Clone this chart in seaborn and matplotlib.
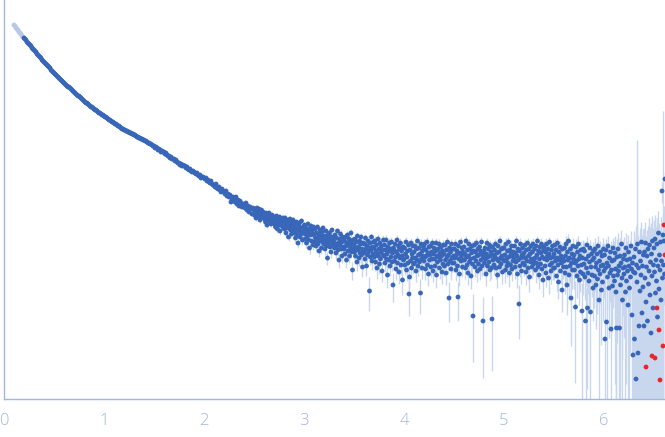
import numpy as np
import pandas as pd
import matplotlib
matplotlib.use("Agg")
import matplotlib.pyplot as plt
import seaborn as sns

# intensities stored as -log10(I) * 100
# q = 0.10 .. 2.49, step 0.01
smooth_vals = """
-5 -4 -2 -1 0 2 3 4 6 7
8 9 10 12 13 14 15 16 18 19
20 21 22 24 25 26 27 28 30 31
32 33 34 35 36 37 38 40 41 42
43 44 45 46 47 48 49 50 51 52
53 54 55 56 57 57 58 59 60 61
62 63 64 65 66 66 67 68 69 70
71 72 73 73 74 75 76 77 77 78
79 80 80 81 82 83 83 84 85 85
86 87 87 88 89 90 90 91 92 92
93 94 94 95 96 96 97 98 99 99
100 100 101 101 102 102 103 103 104 104
105 105 106 107 107 108 108 109 109 110
110 111 111 112 113 113 114 114 115 116
116 118 117 118 120 119 120 122 121 122
122 124 123 125 126 126 128 127 129 129
129 131 130 132 133 133 135 134 136 135
136 136 138 137 139 140 139 141 142 141
142 143 144 143 145 146 145 148 147 147
148 149 148 151 150 152 153 151 154 155
155 157 154 158 159 157 160 162 159 161
162 164 161 166 164 167 165 172 170 167
169 172 167 174 170 176 171 173 177 174
175 178 173 180 176 182 177 179 184 178
"""

# q = 2.500 .. 6.610, step 0.005
noisy_vals = """
180 185 179 183 188 181 178 184 182 186 179 183 190 181 185 180 184 187 182 186
184 189 186 192 183 188 195 185 190 187 183 191 188 186 194 189 185 192 187 190
189 194 187 197 190 186 193 199 188 192 195 187 201 190 193 189 196 191 188 198
192 199 188 196 203 194 190 198 193 207 191 196 189 200 195 204 192 197 190 201
197 203 194 208 199 192 205 201 213 196 200 193 207 198 204 191 202 210 197 203
201 195 209 204 198 213 200 206 194 210 202 218 199 205 196 211 203 200 215 197
205 212 199 208 216 203 210 197 214 207 221 204 200 211 206 218 202 209 198 213
214 206 219 209 201 216 211 228 205 213 208 203 217 210 222 207 200 215 212 209
210 218 205 214 223 208 216 201 220 213 230 209 215 204 219 212 226 207 217 211
219 211 224 207 216 230 213 205 221 215 209 226 212 218 203 222 214 240 210 219
215 222 209 226 218 212 232 206 220 217 228 211 223 214 207 225 219 237 213 221
223 214 229 208 219 236 216 225 211 222 218 261 213 227 220 207 231 217 224 212
218 227 211 232 221 215 238 224 209 226 219 234 213 229 222 216 241 220 225 210
226 215 233 220 210 229 224 245 217 230 221 213 236 219 227 212 232 223 255 218
220 231 214 227 239 222 210 233 225 216 242 219 228 213 235 221 226 250 217 230
229 218 235 224 212 240 227 221 233 215 264 247 220 231 213 238 224 228 216 234
222 233 216 228 241 219 230 211 236 225 218 232 224 263 214 229 238 221 226 217
231 214 227 239 220 226 212 235 223 244 217 230 225 216 237 222 229 213 241 224
218 229 236 221 213 245 226 232 219 227 214 238 223 230 217 226 242 221 234 215
224 236 215 230 243 220 227 212 234 225 268 218 231 222 239 214 228 233 219 226
233 219 228 214 240 225 221 236 267 216 229 244 223 212 231 226 218 237 222 230
217 230 224 238 211 227 235 220 243 226 214 232 219 229 246 223 216 234 286 221
228 215 237 222 231 213 226 241 219 234 225 217 239 221 230 212 236 224 291 227
221 233 218 229 244 224 213 236 227 219 232 215 240 226 222 238 289 217 230 225
235 220 227 214 238 229 223 245 216 231 222 237 211 228 234 219 226 242 218 230
218 231 225 240 214 229 236 221 233 212 227 243 220 235 224 216 239 226 231 222
229 216 237 223 232 211 226 244 219 230 274 221 236 214 228 241 225 218 233 227
223 235 215 228 242 220 231 213 238 226 219 247 224 232 216 229 237 222 214 234
232 219 228 240 216 233 225 211 237 221 245 229 217 234 223 214 239 227 250 220
217 229 236 222 243 214 230 226 219 248 224 212 235 228 241 220 233 216 227 238
224 238 215 231 220 246 228 213 235 252 222 230 217 241 226 233 260 219 229 237
231 218 243 226 214 237 255 222 230 211 245 228 236 219 268 233 224 240 216 229
225 240 233 277 217 231 246 222 236 214 229 250 226 242 220 235 281 228 244 219
234 221 247 291 229 238 215 278 243 226 251 232 218 282 237 224 245 230 258 221
228 246 219 237 255 233 224 249 216 240 270 231 244 222 236 260 226 252 235 219
241 225 309 238 220 292 233 247 216 236 258 228 243 222 299 240 231 256 218 246
230 251 223 239 262 298 227 245 219 241 236 298 226 255 233 214 248 270 238 229
244 225 237 262 218 251 230 241 275 222 236 258 229 247 216 239 285 233 325 242
227 309 243 219 349 235 252 214 323 238 296 222 261 231 245 212 283 236 257 225
296 222 248 213 272 237 226 291 219 254 241 215 265 232 303 224 246 211 278 235
218 242 209 263 230 251 214 287 236 203 259 225 240 212 270 231 161 248 205 235
211 244 149
"""

# flagged points (drawn red)
red_q = [6.42, 6.48, 6.51, 6.53, 6.55, 6.56, 6.59, 6.60, 6.61]
red_vals = [337, 326, 328, 278, 300, 350, 316, 195, 225]

# absolute error, by q range
err_edges = [1.0, 2.5, 3.5, 5.0, 5.6, 5.9, 6.1, 6.3, 6.45]
err_sigma = [0.0005, 0.0007, 0.0008, 0.0009, 0.001, 0.0014, 0.0018, 0.0028, 0.0045, 0.006]
spike_q = [6.33, 6.595]
spike_sigma = [0.076, 0.15]

s_vals = np.array(smooth_vals.split(), dtype=float)
n_vals = np.array(noisy_vals.split(), dtype=float)
q_s = np.arange(10, 250) / 100
q_n = np.arange(2500, 6611, 5) / 1000
assert len(s_vals) == len(q_s) and len(n_vals) == len(q_n)

df = pd.DataFrame({
    "q": np.concatenate([q_s, q_n, red_q]),
    "I": 10 ** (-np.concatenate([s_vals, n_vals, red_vals]) / 100),
})
df["kind"] = "ok"
df.loc[df["q"] < 0.195, "kind"] = "pale"
df.loc[len(q_s) + len(q_n):, "kind"] = "red"

sig = np.array(err_sigma)[np.searchsorted(err_edges, df["q"].values, side="right")]
for sq, ss in zip(spike_q, spike_sigma):
    sig[np.isclose(df["q"].values, sq) & (df["kind"] != "red").values] = ss
lo = np.maximum(df["I"].values - sig, 1e-6)
hi = df["I"].values + sig

sns.set_style("white")
plt.rcParams["font.family"] = ["Open Sans", "DejaVu Sans"]

axc = "#a3b6dc"
fig = plt.figure(figsize=(6.65, 4.37), dpi=100)
ax = fig.add_axes([4 / 665, 38 / 437, 661 / 665, 399 / 437])

ax.vlines(df["q"], lo, hi, color="#c9d7ee", lw=1, zorder=1)
sns.scatterplot(data=df, x="q", y="I", hue="kind",
                palette={"ok": "#3866b9", "pale": "#b8c9e7", "red": "#e8252a"},
                s=12, linewidth=0, legend=False, ax=ax, zorder=3)

ax.set_yscale("log")
ax.set_xlim(0, 6.61)
ax.set_ylim(10 ** -3.69, 10 ** 0.3)
ax.set_xticks(range(7))
ax.set_yticks([1e-2, 1e-1, 1])
ax.yaxis.set_minor_locator(matplotlib.ticker.NullLocator())
ax.set_xlabel("")
ax.set_ylabel("")
ax.tick_params(axis="x", direction="in", length=5, width=1, color=axc,
               labelcolor=axc, labelsize=12, pad=10)
ax.tick_params(axis="y", direction="in", length=6, width=1, color=axc,
               labelleft=False)
for t in ax.get_xticklabels():
    t.set_fontweight("light")
for side in ["top", "right"]:
    ax.spines[side].set_visible(False)
for side in ["left", "bottom"]:
    ax.spines[side].set_color(axc)
    ax.spines[side].set_linewidth(1)

fig.savefig("out.png", dpi=100)
